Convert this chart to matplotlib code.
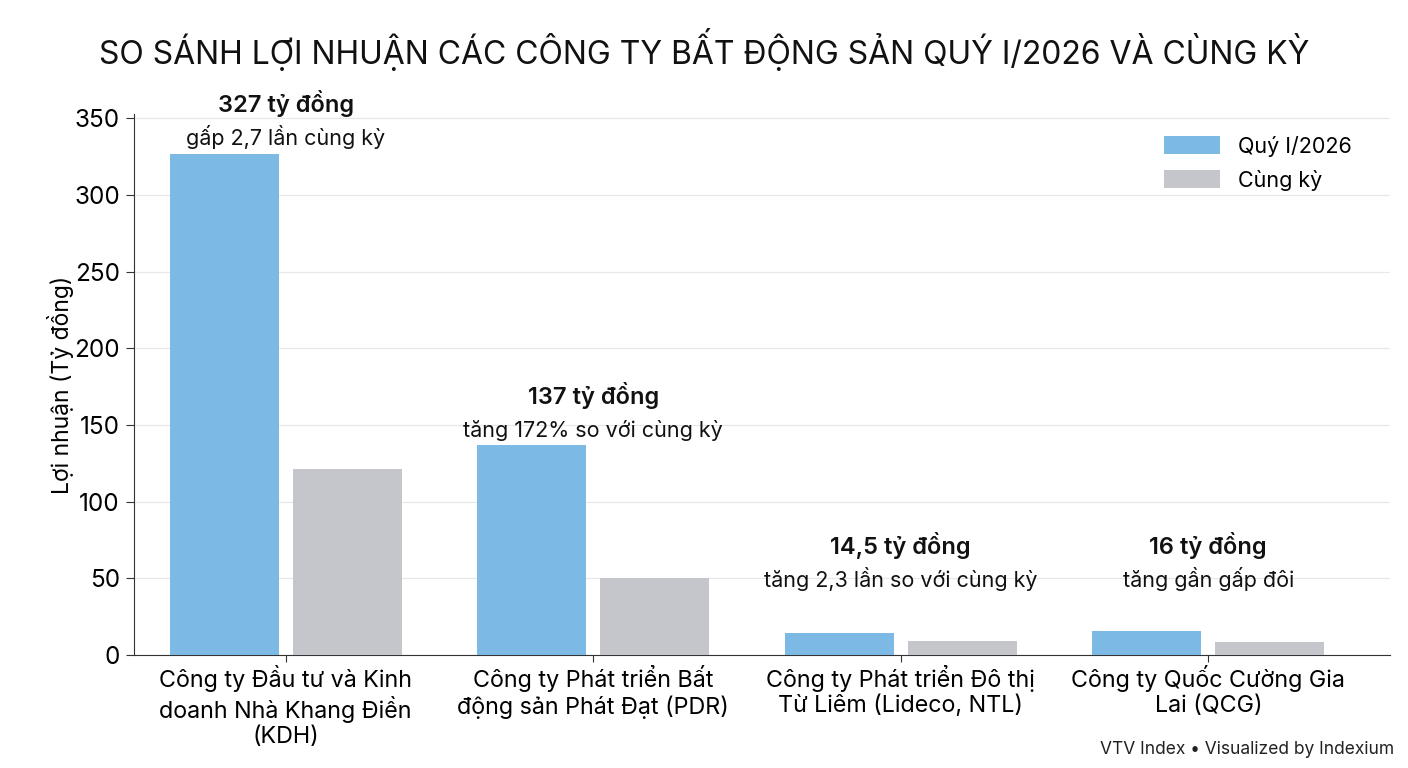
import matplotlib
matplotlib.use("Agg")
import matplotlib.pyplot as plt
import numpy as np

plt.rcParams['font.family'] = ['Inter', 'DejaVu Sans']

companies = [
    "Công ty Đầu tư và Kinh\ndoanh Nhà Khang Điền\n(KDH)",
    "Công ty Phát triển Bất\nđộng sản Phát Đạt (PDR)",
    "Công ty Phát triển Đô thị\nTừ Liêm (Lideco, NTL)",
    "Công ty Quốc Cường Gia\nLai (QCG)",
]
q1_2026 = [327, 137, 14.5, 16]
cung_ky = [121.5, 50.5, 9, 8.7]
headline = ["327 tỷ đồng", "137 tỷ đồng", "14,5 tỷ đồng", "16 tỷ đồng"]
subline = ["gấp 2,7 lần cùng kỳ", "tăng 172% so với cùng kỳ",
           "tăng 2,3 lần so với cùng kỳ", "tăng gần gấp đôi"]

blue = "#7DB9E5"
grey = "#C5C6CB"

fig = plt.figure(figsize=(14.08, 7.68), dpi=100)
ax = fig.add_axes([0.095, 0.147, 0.892, 0.705])

x = np.arange(len(companies))
w = 0.355
off = 0.2
ax.bar(x - off, q1_2026, w, color=blue, label="Quý I/2026", zorder=3)
ax.bar(x + off, cung_ky, w, color=grey, label="Cùng kỳ", zorder=3)

for i, v in enumerate(q1_2026):
    anchor = max(v, 39)
    ax.annotate(subline[i], (x[i], anchor), xytext=(0, 3), textcoords="offset points",
                ha="center", va="bottom", fontsize=15.5, color="#111111", zorder=4)
    ax.annotate(headline[i], (x[i], anchor), xytext=(0, 26), textcoords="offset points",
                ha="center", va="bottom", fontsize=17, fontweight="semibold",
                color="#111111", zorder=4)

ax.set_xlim(-0.494, 3.59)
ax.set_ylim(0, 353)
ax.set_yticks(range(0, 351, 50))
ax.set_xticks(x)
ax.set_xticklabels(companies, fontsize=16.8, linespacing=1.18)
ax.tick_params(axis="y", labelsize=17.5, length=6, color="#333333", pad=4)
ax.tick_params(axis="x", length=5, color="#333333", pad=2)
ax.set_ylabel("Lợi nhuận (Tỷ đồng)", fontsize=16.5, labelpad=0)

ax.grid(axis="y", color="#E8E8E8", linewidth=0.9, zorder=0)
ax.spines["top"].set_visible(False)
ax.spines["right"].set_visible(False)
ax.spines["left"].set_color("#333333")
ax.spines["bottom"].set_color("#333333")

leg = ax.legend(loc="upper right", bbox_to_anchor=(0.985, 0.995), frameon=False,
                fontsize=15.5, handlelength=2.6, handleheight=0.9, labelspacing=0.6)

fig.text(0.5, 0.935, "SO SÁNH LỢI NHUẬN CÁC CÔNG TY BẤT ĐỘNG SẢN QUÝ I/2026 VÀ CÙNG KỲ",
         ha="center", va="center", fontsize=23, color="#111111")
fig.text(0.99, 0.024, "VTV Index • Visualized by Indexium", ha="right", va="center",
         fontsize=12.5, color="#222222")

fig.savefig("out.png", dpi=100)
